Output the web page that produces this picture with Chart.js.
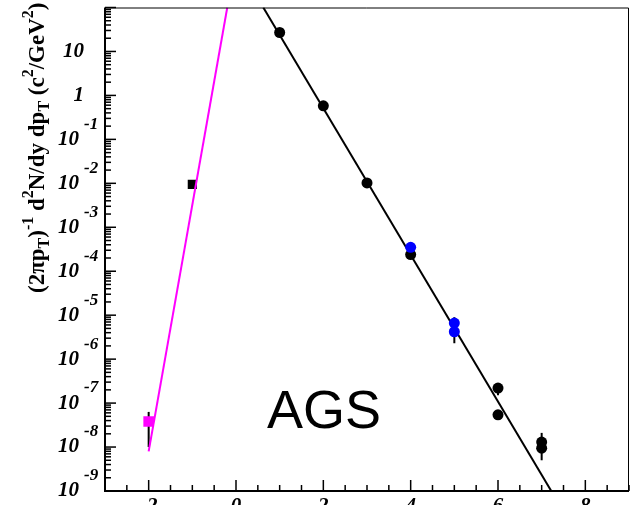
<!DOCTYPE html>
<html>
<head>
<meta charset="utf-8">
<script src="https://cdn.jsdelivr.net/npm/chart.js@4.4.1/dist/chart.umd.min.js"></script>
<style>
  html, body { margin: 0; padding: 0; background: #fff; }
  #wrap { position: relative; width: 637px; height: 505px; }
</style>
</head>
<body>
<div id="wrap"><canvas id="spectrum"></canvas></div>
<script>
// Measured points (black circles), with error bar ends
const blackX  = [1, 2, 3, 4, 6, 6, 7, 7];
const blackY  = [27, 0.58, 0.0102, 2.4e-4, 2.2e-7, 5.4e-8, 1.3e-8, 9.4e-9];
const blackLo = [24, 0.55, 0.0088, 2.2e-4, 1.5e-7, 4.8e-8, 1.0e-8, 5.0e-9];
const blackHi = [31, 0.62, 0.0118, 2.6e-4, 2.5e-7, 6.0e-8, 2.1e-8, 1.1e-8];

// Blue circles
const blueX  = [4, 5, 5];
const blueY  = [3.5e-4, 6.6e-6, 4.2e-6];
const blueLo = [3.1e-4, 5.5e-6, 2.3e-6];
const blueHi = [3.9e-4, 9.0e-6, 5.0e-6];

// Square points
const pinkSqX = [-2];
const pinkSqY = [3.8e-8];
const pinkSqLo = [1.0e-8];
const pinkSqHi = [6.3e-8];
const blackSqX = [-1];
const blackSqY = [0.0095];

// Fitted lines (exponential, straight on log scale)
const pinkLineX = [-2, -0.2];
const pinkLineY = [8e-9, 100];
const blackLineX = [0.625, 7.22];
const blackLineY = [100, 1e-9];

// Axis ticks
const xTickValues = [-2, 0, 2, 4, 6, 8];
const xTickLabels = ['-2', '0', '2', '4', '6', '8'];
const yDecades = [-9, -8, -7, -6, -5, -4, -3, -2, -1, 0, 1];

function toPoints(xs, ys) {
    return xs.map((x, i) => ({ x: x, y: ys[i] }));
}

const serifBI = '"Liberation Serif", "Times New Roman", serif';

// Error bars drawn under the markers
const errorBars = {
    id: 'errorBars',
    beforeDatasetsDraw(chart) {
        const ctx = chart.ctx;
        const ys = chart.scales.y;
        ctx.save();
        ctx.strokeStyle = '#000';
        ctx.lineWidth = 2;
        chart.data.datasets.forEach((ds, i) => {
            if (!ds.errLo) return;
            const meta = chart.getDatasetMeta(i);
            meta.data.forEach((pt, j) => {
                ctx.beginPath();
                ctx.moveTo(pt.x, ys.getPixelForValue(ds.errLo[j]));
                ctx.lineTo(pt.x, ys.getPixelForValue(ds.errHi[j]));
                ctx.stroke();
            });
        });
        ctx.restore();
    }
};

// ROOT-like frame, inside ticks, labels and titles
const frameAxes = {
    id: 'frameAxes',
    afterDraw(chart) {
        const ctx = chart.ctx;
        const a = chart.chartArea;
        const xs = chart.scales.x, ys = chart.scales.y;
        ctx.save();
        ctx.strokeStyle = '#000';

        // thin top / right border
        ctx.lineWidth = 1;
        ctx.beginPath();
        ctx.moveTo(a.left, a.top + 0.5);
        ctx.lineTo(a.right - 0.5, a.top + 0.5);
        ctx.lineTo(a.right - 0.5, a.bottom);
        ctx.stroke();

        // thicker left / bottom axes
        ctx.lineWidth = 2;
        ctx.beginPath();
        ctx.moveTo(a.left, a.top);
        ctx.lineTo(a.left, a.bottom);
        ctx.lineTo(a.right, a.bottom);
        ctx.stroke();

        // y ticks (log)
        ctx.lineWidth = 1.5;
        for (let e = -9; e <= 2; e++) {
            const py = ys.getPixelForValue(Math.pow(10, e));
            ctx.beginPath();
            ctx.moveTo(a.left, py);
            ctx.lineTo(a.left + 11, py);
            ctx.stroke();
            if (e === 2) continue;
            for (let m = 2; m <= 9; m++) {
                const q = ys.getPixelForValue(m * Math.pow(10, e));
                ctx.beginPath();
                ctx.moveTo(a.left, q);
                ctx.lineTo(a.left + 6, q);
                ctx.stroke();
            }
        }

        // x ticks every 0.5, long ones every 2
        for (let v = -3; v <= 9.001; v += 0.5) {
            const px = xs.getPixelForValue(v);
            const major = Math.abs(v / 2 - Math.round(v / 2)) < 1e-6;
            ctx.beginPath();
            ctx.moveTo(px, a.bottom);
            ctx.lineTo(px, a.bottom - (major ? 11 : 6));
            ctx.stroke();
        }

        // y labels: "10" with exponent up-right
        ctx.fillStyle = '#000';
        ctx.textBaseline = 'middle';
        yDecades.forEach(e => {
            const py = ys.getPixelForValue(Math.pow(10, e));
            ctx.font = 'bold italic 21px ' + serifBI;
            ctx.textAlign = 'right';
            if (e === 0) {
                ctx.fillText('1', 84, py);
            } else if (e === 1) {
                ctx.fillText('10', 84, py);
            } else {
                ctx.fillText('10', 79, py);
                ctx.font = 'bold italic 17px ' + serifBI;
                ctx.textAlign = 'left';
                ctx.fillText(String(e), 84, py - 15);
            }
        });

        // x labels (clipped by the bottom edge)
        ctx.font = 'bold italic 21px ' + serifBI;
        ctx.textAlign = 'center';
        ctx.textBaseline = 'alphabetic';
        xTickValues.forEach((v, i) => {
            ctx.fillText(xTickLabels[i], xs.getPixelForValue(v), 512);
        });

        // AGS label
        ctx.font = '54px "Liberation Sans", Arial, sans-serif';
        ctx.textAlign = 'left';
        ctx.fillText('AGS', 267, 428);

        // rotated y title
        const parts = [
            ['(2\u03C0p', 0], ['T', -1], [')', 0], ['-1', 1], [' d', 0], ['2', 1],
            ['N/dy dp', 0], ['T', -1], [' (c', 0], ['2', 1], ['/GeV', 0], ['2', 1], [')', 0]
        ];
        ctx.translate(44, 293);
        ctx.rotate(-Math.PI / 2);
        let cx = 0;
        parts.forEach(p => {
            const small = p[1] !== 0;
            ctx.font = 'bold ' + (small ? 16 : 23) + 'px ' + serifBI;
            const dy = p[1] === 1 ? -11 : (p[1] === -1 ? 5 : 0);
            ctx.fillText(p[0], cx, dy);
            cx += ctx.measureText(p[0]).width;
        });
        ctx.restore();
    }
};

const ctx = document.getElementById('spectrum').getContext('2d');
const spectrumChart = new Chart(ctx, {
    type: 'scatter',
    data: {
        datasets: [
            {
                label: 'pink square',
                data: toPoints(pinkSqX, pinkSqY),
                errLo: pinkSqLo, errHi: pinkSqHi,
                pointStyle: 'rect', pointRadius: 7.5,
                backgroundColor: '#ff00ff', borderWidth: 0,
                order: 0
            },
            {
                label: 'blue',
                data: toPoints(blueX, blueY),
                errLo: blueLo, errHi: blueHi,
                pointStyle: 'circle', pointRadius: 5.5,
                backgroundColor: '#0000ff', borderWidth: 0,
                order: 1
            },
            {
                label: 'black',
                data: toPoints(blackX, blackY),
                errLo: blackLo, errHi: blackHi,
                pointStyle: 'circle', pointRadius: 5.5,
                backgroundColor: '#000', borderWidth: 0,
                order: 2
            },
            {
                label: 'black fit',
                data: toPoints(blackLineX, blackLineY),
                showLine: true, pointRadius: 0,
                borderColor: '#000', borderWidth: 2,
                order: 3
            },
            {
                label: 'pink fit',
                data: toPoints(pinkLineX, pinkLineY),
                showLine: true, pointRadius: 0,
                borderColor: '#ff00ff', borderWidth: 2,
                order: 4
            },
            {
                label: 'black square',
                data: toPoints(blackSqX, blackSqY),
                pointStyle: 'rect', pointRadius: 6.5,
                backgroundColor: '#000', borderWidth: 0,
                order: 5
            }
        ]
    },
    options: {
        responsive: true,
        maintainAspectRatio: false,
        animation: false,
        layout: { padding: { left: 105, right: 8, top: 4, bottom: 14 } },
        scales: {
            x: { type: 'linear', min: -3, max: 9, display: false },
            y: { type: 'logarithmic', min: 1e-9, max: 100, display: false }
        },
        plugins: {
            legend: { display: false },
            tooltip: { enabled: false }
        }
    },
    plugins: [errorBars, frameAxes]
});
</script>
</body>
</html>
